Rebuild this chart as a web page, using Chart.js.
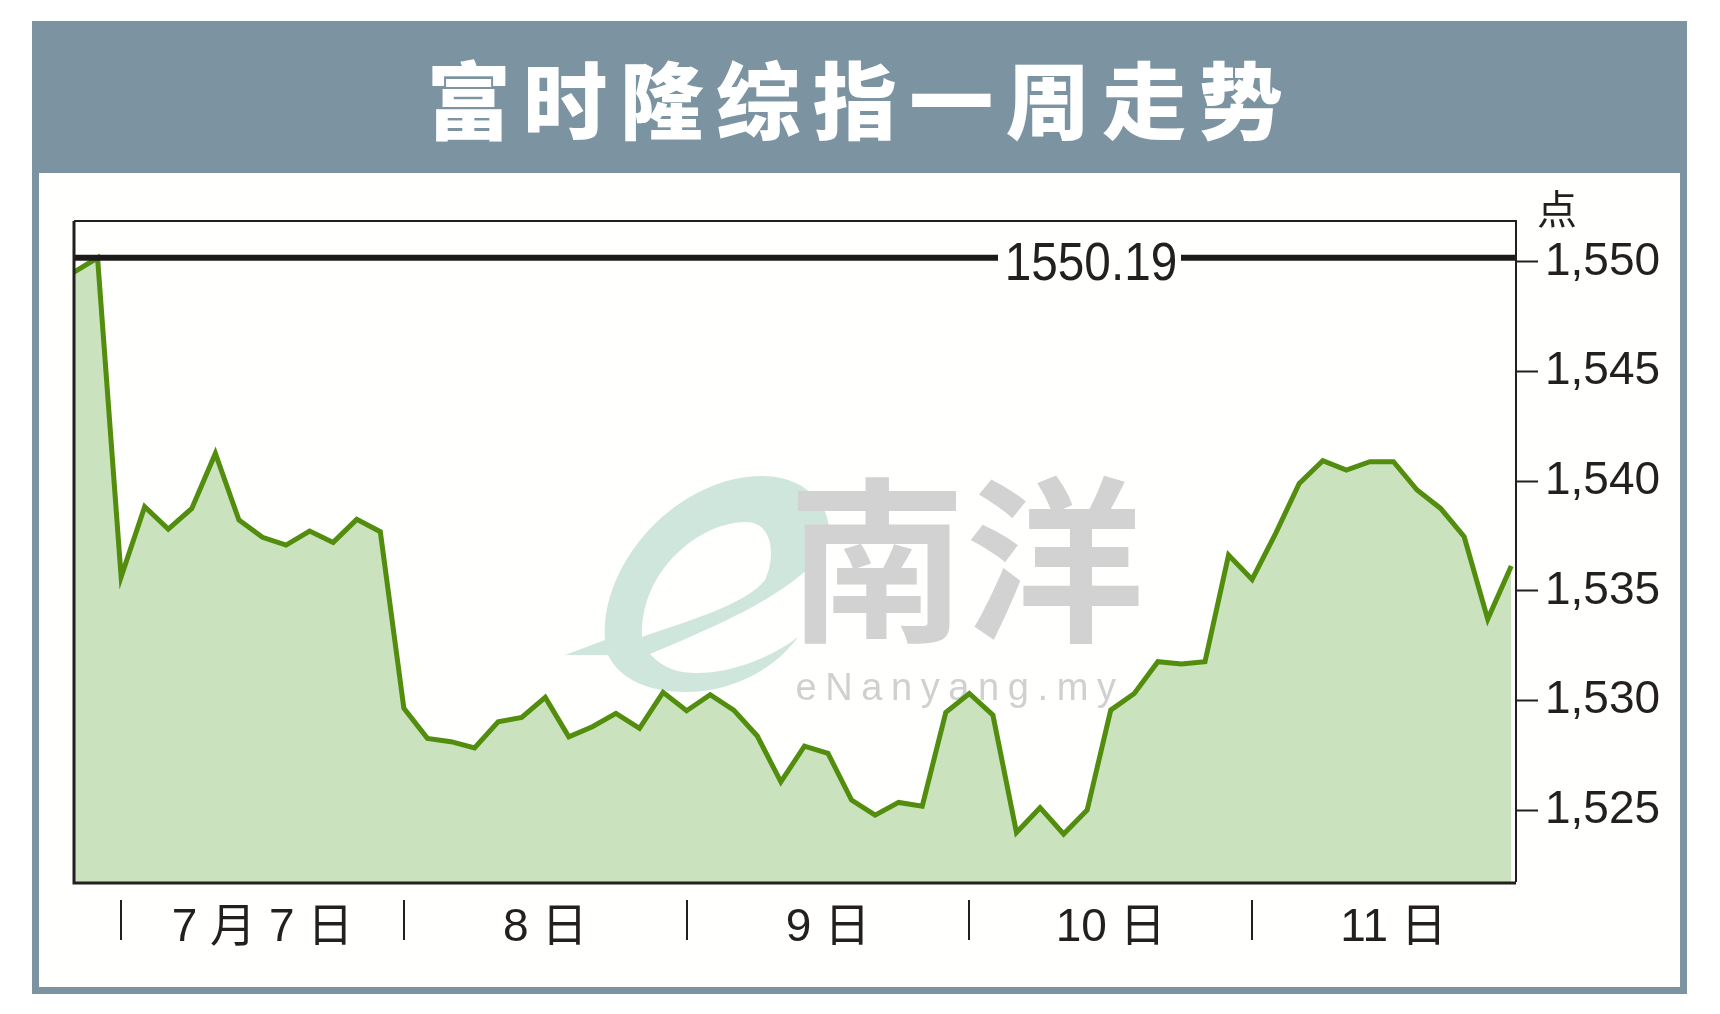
<!DOCTYPE html>
<html lang="zh">
<head>
    <meta charset="UTF-8">
    <title>富时隆综指一周走势</title>
    <script src="https://cdn.jsdelivr.net/npm/chart.js"></script>
</head>
<body style="margin: 0; background: #fff; overflow: hidden;">
    <!-- Frame and header band -->
    <div style="position: absolute; left: 32px; top: 21px; width: 1655px; height: 973px; background: #7c94a2;">
        <div style="position: absolute; left: 7px; top: 152px; right: 7px; bottom: 7px; background: #fffffd;"></div>
    </div>
    <div style="position: absolute; left: 0; top: 47px; width: 1722px; text-align: center; color: #fff; font: 900 84px/100px 'Noto Sans CJK SC', sans-serif; letter-spacing: 12.5px; white-space: nowrap;">富时隆综指一周走势</div>

    <canvas id="chart" width="1720" height="1014" style="position: absolute; left: 0; top: 0; width: 1720px; height: 1014px;"></canvas>

    <script>
        const closes = [
            1549.54, 1550.19, 1535.64, 1538.84, 1537.82, 1538.76, 1541.27, 1538.23, 1537.44, 1537.09,
            1537.73, 1537.21, 1538.26, 1537.70, 1529.64, 1528.27, 1528.12, 1527.84, 1529.03, 1529.23,
            1530.14, 1528.34, 1528.80, 1529.41, 1528.73, 1530.37, 1529.53, 1530.26, 1529.56, 1528.38,
            1526.29, 1527.92, 1527.59, 1525.46, 1524.77, 1525.35, 1525.18, 1529.46, 1530.32, 1529.33,
            1523.98, 1525.11, 1523.91, 1525.00, 1529.56, 1530.32, 1531.77, 1531.66, 1531.77, 1536.63,
            1535.52, 1537.62, 1539.90, 1540.94, 1540.51, 1540.89, 1540.89, 1539.60, 1538.76, 1537.47,
            1533.71, 1536.13
        ];
        const highValue = 1550.19;
        const yTicks = [1525, 1530, 1535, 1540, 1545, 1550];
        const dayStarts = [2, 14, 26, 38, 50];
        const dayCenters = [8, 20, 32, 44, 56];
        const dayLabels = ['7 月 7 日', '8 日', '9 日', '10 日', '11 日'];
        const unitLabel = '点';
        const watermarkCn = '南洋';
        const watermarkEn = 'eNanyang.my';

        const ink = '#231f20';
        const labelFont = "'Liberation Sans', 'Noto Sans CJK SC', sans-serif";
        const xMax = 61.2;

        // Watermark sits behind the area
        const watermark = {
            id: 'watermark',
            beforeDatasetsDraw(chart) {
                const ctx = chart.ctx;
                ctx.save();
                // the "e" swoosh
                ctx.fillStyle = '#cfe6dc';
                ctx.beginPath();
                ctx.moveTo(565, 655);
                ctx.lineTo(605, 640);
                ctx.bezierCurveTo(600, 560, 680, 476, 762, 476);
                ctx.bezierCurveTo(815, 476, 840, 520, 825, 548);
                ctx.bezierCurveTo(800, 590, 720, 625, 650, 654);
                ctx.bezierCurveTo(665, 670, 680, 673, 697, 673);
                ctx.bezierCurveTo(735, 673, 775, 655, 798, 637);
                ctx.bezierCurveTo(770, 675, 725, 692, 686, 692);
                ctx.bezierCurveTo(650, 692, 620, 680, 608, 655);
                ctx.closePath();
                ctx.fill();
                ctx.fillStyle = '#fffffd';
                ctx.beginPath();
                ctx.moveTo(642, 637);
                ctx.bezierCurveTo(640, 570, 700, 522, 746, 522);
                ctx.bezierCurveTo(775, 522, 775, 560, 765, 580);
                ctx.bezierCurveTo(745, 605, 690, 620, 642, 637);
                ctx.closePath();
                ctx.fill();
                // the text
                ctx.fillStyle = '#d2d2d2';
                ctx.textAlign = 'center';
                ctx.textBaseline = 'middle';
                ctx.font = "700 178px 'Noto Sans CJK SC', sans-serif";
                ctx.fillText(watermarkCn, 966, 560);
                ctx.font = "38px 'Liberation Sans', sans-serif";
                ctx.letterSpacing = '8.6px';
                ctx.fillStyle = '#d0d0d0';
                ctx.fillText(watermarkEn, 960, 690);
                ctx.restore();
            }
        };

        // Plot border, day separators, the high label and the unit
        const furniture = {
            id: 'furniture',
            afterDatasetsDraw(chart) {
                const ctx = chart.ctx;
                const { left, right, top, bottom } = chart.chartArea;
                const x = chart.scales.x;
                const y = chart.scales.y;
                ctx.save();

                // gap in the high line, with its value
                const highY = y.getPixelForValue(highValue);
                ctx.fillStyle = '#fffffd';
                ctx.fillRect(998, highY - 5, 183, 10);
                ctx.fillStyle = ink;
                ctx.textAlign = 'center';
                ctx.textBaseline = 'middle';
                ctx.font = "53px 'Liberation Sans', sans-serif";
                ctx.save();
                ctx.translate(1091, highY + 8);
                ctx.scale(0.9, 1);
                ctx.fillText(highValue.toFixed(2), 0, 0);
                ctx.restore();

                // border
                ctx.strokeStyle = ink;
                ctx.lineWidth = 2;
                ctx.beginPath();
                ctx.moveTo(left, top);
                ctx.lineTo(right, top);
                ctx.lineTo(right, bottom);
                ctx.stroke();
                ctx.lineWidth = 3;
                ctx.beginPath();
                ctx.moveTo(left, top);
                ctx.lineTo(left, bottom + 1);
                ctx.lineTo(right, bottom + 1);
                ctx.stroke();

                // day separators under the axis
                ctx.lineWidth = 2;
                dayStarts.forEach(i => {
                    const px = Math.round(x.getPixelForValue(i));
                    ctx.beginPath();
                    ctx.moveTo(px, bottom + 18);
                    ctx.lineTo(px, bottom + 58);
                    ctx.stroke();
                });

                // unit
                ctx.fillStyle = ink;
                ctx.font = "40px 'Noto Sans CJK SC', sans-serif";
                ctx.fillText(unitLabel, 1557, 209);
                ctx.restore();
            }
        };

        new Chart(document.getElementById('chart'), {
            type: 'line',
            data: {
                datasets: [{
                    data: [{ x: 0, y: highValue }, { x: xMax, y: highValue }],
                    borderColor: '#1d1b1a',
                    borderWidth: 6,
                    pointRadius: 0,
                    fill: false,
                    order: 0
                }, {
                    data: closes.map((v, i) => ({ x: i, y: v })),
                    borderColor: '#528d0e',
                    backgroundColor: '#cae2be',
                    borderWidth: 5,
                    borderJoinStyle: 'miter',
                    pointRadius: 0,
                    tension: 0,
                    fill: 'start',
                    order: 1
                }]
            },
            options: {
                responsive: false,
                animation: false,
                devicePixelRatio: 1,
                layout: { padding: { left: 74, right: 0, top: 221, bottom: 52 } },
                plugins: {
                    legend: { display: false },
                    tooltip: { enabled: false }
                },
                scales: {
                    x: {
                        type: 'linear',
                        min: 0,
                        max: xMax,
                        afterBuildTicks: scale => { scale.ticks = dayCenters.map(v => ({ value: v })); },
                        afterFit: scale => { scale.height = 80; },
                        grid: { display: false, drawTicks: false },
                        border: { display: false },
                        ticks: {
                            autoSkip: false,
                            maxRotation: 0,
                            padding: 19,
                            color: ink,
                            font: { family: labelFont, size: 46 },
                            callback: value => dayLabels[dayCenters.indexOf(value)]
                        }
                    },
                    y: {
                        position: 'right',
                        min: 1521.72,
                        max: 1551.87,
                        afterBuildTicks: scale => { scale.ticks = yTicks.map(v => ({ value: v })); },
                        afterFit: scale => { scale.width = 204; },
                        grid: {
                            drawOnChartArea: false,
                            drawTicks: true,
                            tickLength: 22,
                            tickWidth: 2,
                            tickColor: ink
                        },
                        border: { display: false },
                        ticks: {
                            padding: 7,
                            color: ink,
                            font: { family: labelFont, size: 46 },
                            callback: value => value.toLocaleString('en-US')
                        }
                    }
                }
            },
            plugins: [watermark, furniture]
        });
    </script>
</body>
</html>
